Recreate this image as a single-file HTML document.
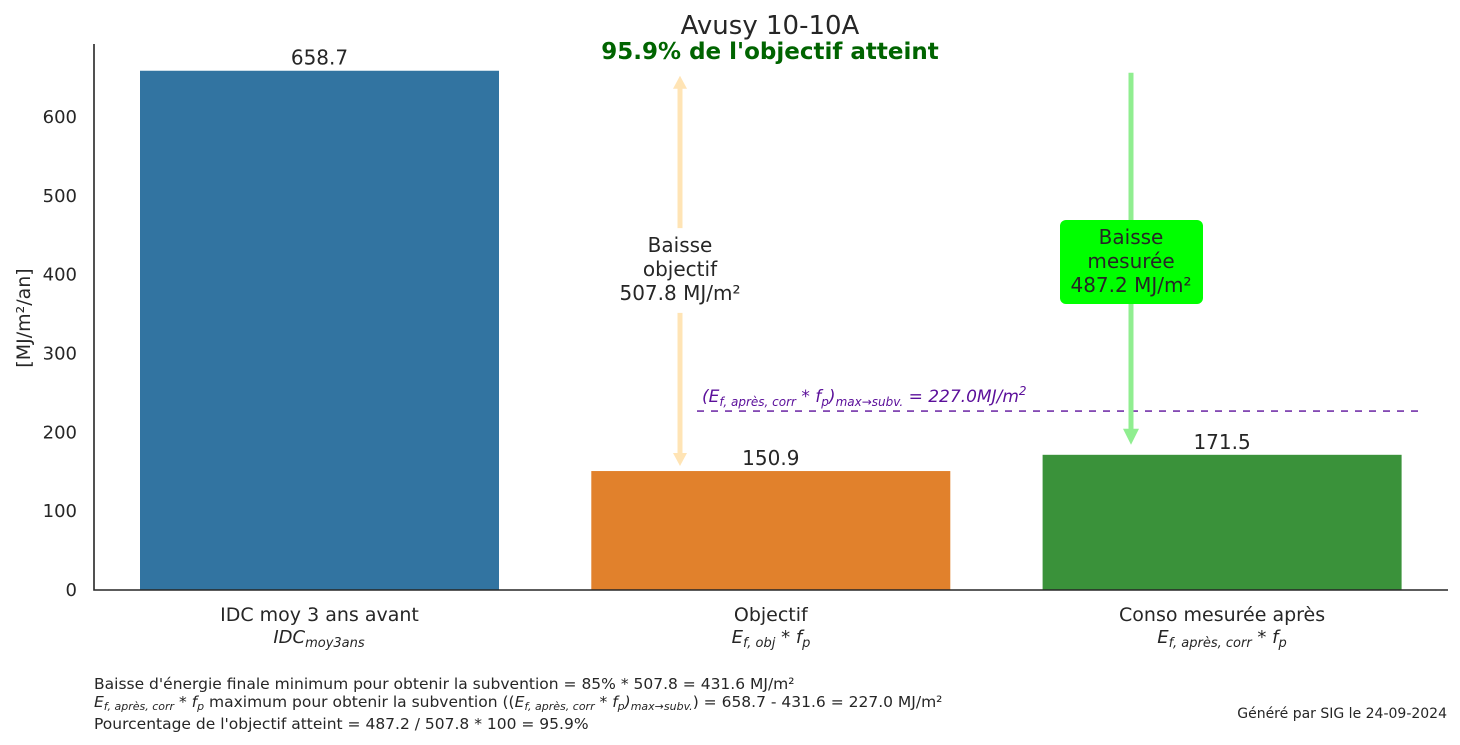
<!DOCTYPE html>
<html><head><meta charset="utf-8"><style>
body{margin:0;background:#fff;}
svg{display:block;font-family:"DejaVu Sans","Liberation Sans",sans-serif;}
</style></head><body>
<svg id="chart" width="1460" height="745" viewBox="0 0 1460 745" xmlns="http://www.w3.org/2000/svg">
<g id="marks"></g>
</svg>
<script>
const categories = ["IDC moy 3 ans avant","Objectif","Conso mesurée après"];
const values = [658.7,150.9,171.5];
const yTicks = [0,100,200,300,400,500,600];
const threshold = [227.0];
const colors = ["#3274a1","#e1812c","#3a923a"];
const NS="http://www.w3.org/2000/svg";
const g=document.getElementById('marks');
const y0=590, pxPer=0.7883;
function yS(v){return y0-v*pxPer;}
function xC(i){return 319.5+i*451.3;}
const bw=359;
function el(t,a,txt){const e=document.createElementNS(NS,t);for(const k in a)e.setAttribute(k,a[k]);if(txt!==undefined)e.textContent=txt;g.appendChild(e);return e;}
yTicks.forEach(v=>{
 const t=el('text',{x:77,y:yS(v)+6,'text-anchor':'end','font-size':18,fill:'#262626'},String(v));
 
 
});
values.forEach((v,i)=>{
 const r=el('rect',{x:xC(i)-bw/2,y:yS(v),width:bw,height:y0-yS(v),fill:colors[i]});
 
 
 const t=el('text',{x:xC(i),y:yS(v)-6,'text-anchor':'middle','font-size':20,fill:'#262626'},v.toFixed(1));
 
 
 const c=el('text',{x:xC(i),y:621,'text-anchor':'middle','font-size':19,fill:'#262626'},categories[i]);
 
 
});
const ax=el('path',{d:'M94,44 V590 H1448',stroke:'#262626','stroke-width':1.6,fill:'none'});


const th=yS(threshold[0]);
const dl=el('line',{x1:697,x2:1420,y1:th,y2:th,stroke:'#5b0f9a','stroke-width':1.3,'stroke-dasharray':'7,7'});


const drop=values[0]-values[1];
const a1=el('path',{d:`M680,${yS(values[1])-14} V${yS(values[1]+drop*0.395)} M680,${yS(values[0]-drop*0.393)} V${yS(values[0])+16}`,stroke:'#ffe4b5','stroke-width':5,fill:'none'});


el('path',{d:`M673,${yS(values[0])+18} L680,${yS(values[0])+5} L687,${yS(values[0])+18} Z`,fill:'#ffe4b5'});
el('path',{d:`M673,${yS(values[1])-18} L680,${yS(values[1])-5} L687,${yS(values[1])-18} Z`,fill:'#ffe4b5'});
const a2=el('path',{d:`M1131,${yS(values[0])+2} V${yS(values[2])-16}`,stroke:'#90ee90','stroke-width':5,fill:'none'});


el('path',{d:`M1123,${yS(values[2])-26} L1131,${yS(values[2])-10} L1139,${yS(values[2])-26} Z`,fill:'#90ee90'});
const bx=el('rect',{x:1060,y:220,width:143,height:84,rx:6,fill:'#00ff00'});


</script>
<svg style="position:absolute;left:0;top:0" width="1460" height="745" font-family="DejaVu Sans, Liberation Sans, sans-serif" fill="#262626">
<text x="770" y="34" text-anchor="middle" font-size="26">Avusy 10-10A</text>
<text x="770" y="59" text-anchor="middle" font-size="23" font-weight="bold" fill="#006400">95.9% de l'objectif atteint</text>
<text transform="translate(30,318) rotate(-90)" text-anchor="middle" font-size="19">[MJ/m²/an]</text>
<g font-size="20" text-anchor="middle">
<text x="680" y="252">Baisse</text><text x="680" y="276">objectif</text><text x="680" y="300">507.8 MJ/m²</text></g>
<g font-size="20" text-anchor="middle">
<text x="1131" y="244">Baisse</text><text x="1131" y="268">mesurée</text><text x="1131" y="292">487.2 MJ/m²</text></g>
<text x="702" y="402" font-size="17" fill="#5b0f9a" font-style="italic">(E<tspan font-size="12" dy="4">f, après, corr</tspan><tspan dy="-4"> * f</tspan><tspan font-size="12" dy="4">p</tspan><tspan dy="-4">)</tspan><tspan font-size="12" dy="4">max→subv.</tspan><tspan dy="-4"> = 227.0MJ/m</tspan><tspan font-size="12" dy="-7">2</tspan></text>
<g font-size="18" font-style="italic" text-anchor="middle">
<text x="319" y="643">IDC<tspan font-size="13" dy="4">moy3ans</tspan></text>
<text x="771" y="643">E<tspan font-size="13" dy="4">f, obj</tspan><tspan dy="-4"> * f</tspan><tspan font-size="13" dy="4">p</tspan></text>
<text x="1222" y="643">E<tspan font-size="13" dy="4">f, après, corr</tspan><tspan dy="-4"> * f</tspan><tspan font-size="13" dy="4">p</tspan></text></g>
<g font-size="15.5">
<text x="94" y="689">Baisse d'énergie finale minimum pour obtenir la subvention = 85% * 507.8 = 431.6 MJ/m²</text>
<text x="94" y="707"><tspan font-style="italic">E<tspan font-size="11" dy="3">f, après, corr</tspan><tspan dy="-3"> * f</tspan><tspan font-size="11" dy="3">p</tspan></tspan><tspan dy="-3"> maximum pour obtenir la subvention ((</tspan><tspan font-style="italic">E<tspan font-size="11" dy="3">f, après, corr</tspan><tspan dy="-3"> * f</tspan><tspan font-size="11" dy="3">p</tspan><tspan dy="-3">)</tspan><tspan font-size="11" dy="3">max→subv.</tspan></tspan><tspan dy="-3">) = 658.7 - 431.6 = 227.0 MJ/m²</tspan></text>
<text x="94" y="729">Pourcentage de l'objectif atteint = 487.2 / 507.8 * 100 = 95.9%</text>
</g>
<text x="1447" y="718" text-anchor="end" font-size="14">Généré par SIG le 24-09-2024</text>
</svg>
</body></html>
